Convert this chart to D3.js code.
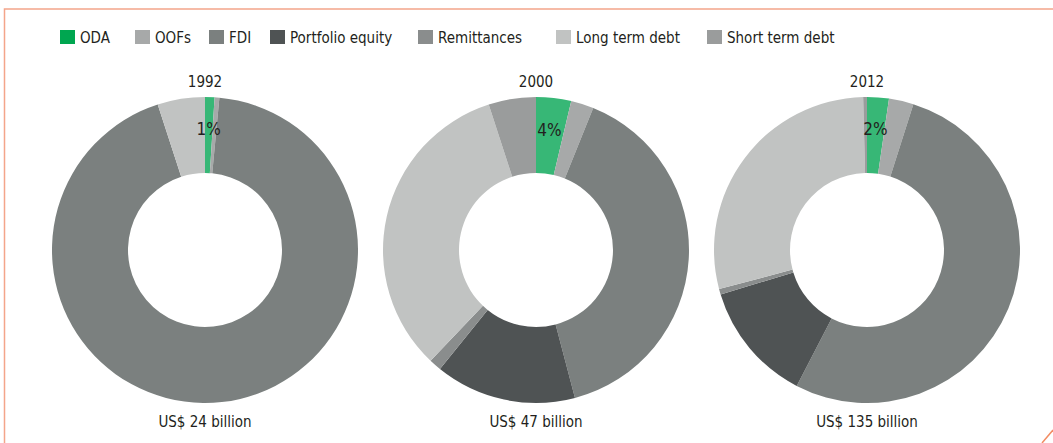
<!DOCTYPE html>
<html>
<head>
<meta charset="utf-8">
<script src="https://cdn.jsdelivr.net/npm/d3@7"></script>
<style>
  body { margin: 0; background: #fff; }
  text { font-family: "Liberation Sans Narrow", "DejaVu Sans Condensed", sans-serif; fill: #231f20; }
</style>
</head>
<body>
<div id="chart"></div>
<script>
// categories, in the order they go round each ring
const categories = ['ODA', 'OOFs', 'FDI', 'Portfolio equity', 'Remittances', 'Long term debt', 'Short term debt'];
const years = ['1992', '2000', '2012'];
const totals = ['US$ 24 billion', 'US$ 47 billion', 'US$ 135 billion'];

// shares (%)
const shares1992 = [1.0, 0.5, 93.5, 0, 0, 5.0, 0];
const shares2000 = [3.7, 2.4, 39.8, 14.9, 1.3, 32.9, 5.0];
const shares2012 = [2.3, 2.6, 52.7, 12.7, 0.6, 28.7, 0.4];

const colors = ['#37b776', '#a7a9a9', '#7b807f', '#4f5354', '#8a8d8d', '#c1c3c2', '#9a9c9c'];
const legendColors = ['#00a650', '#a7a9a9', '#7b807f', '#4f5354', '#8a8d8d', '#c1c3c2', '#9a9c9c'];

const size = { width: 1053, height: 443 };
const ring = { outer: 153, inner: 77, cy: 250 };
// legend item offsets (layout only)
const legendOffsets = [0, 75, 149, 210, 358, 496, 647];

const svg = d3.select('#chart')
  .append('svg')
  .attr('width', size.width)
  .attr('height', size.height);

// orange frame
const frame = svg.append('g')
  .attr('fill', 'none')
  .attr('stroke-width', 1.5);
frame.append('path').attr('d', 'M4.5,443 V9 H1053').attr('stroke', '#f4a58a');
frame.append('path').attr('d', 'M1042,443 L1053,430').attr('stroke', '#f28c63');

// legend
const legend = svg.append('g').attr('transform', 'translate(60,30)');
categories.forEach((c, i) => {
  const g = legend.append('g').attr('transform', `translate(${legendOffsets[i]},0)`);
  g.append('rect').attr('width', 15).attr('height', 14).attr('fill', legendColors[i]);
  g.append('text')
    .attr('x', 20)
    .attr('y', 12.5)
    .attr('font-size', 15)
    .text(c);
});

const x = d3.scalePoint()
  .domain(years)
  .range([205, 867]);

const color = d3.scaleOrdinal().domain(categories).range(colors);

const pie = d3.pie().sort(null).value((d) => d.value);
const arc = d3.arc().innerRadius(ring.inner).outerRadius(ring.outer);

[shares1992, shares2000, shares2012].forEach((shares, i) => {
  const data = categories.map((c, j) => ({ cat: c, value: shares[j] }));
  const g = svg.append('g').attr('transform', `translate(${x(years[i])},${ring.cy})`);

  const arcs = pie(data);
  g.selectAll('path')
    .data(arcs)
    .enter()
    .append('path')
    .attr('d', arc)
    .attr('fill', (d) => color(d.data.cat));

  const oda = arcs[0];
  const [cx, cy] = arc.centroid(oda);
  g.append('text')
    .attr('x', cx)
    .attr('y', cy)
    .attr('text-anchor', 'middle')
    .attr('font-size', 17)
    .text(Math.round(oda.data.value) + '%');

  g.append('text')
    .attr('y', -ring.outer - 10)
    .attr('text-anchor', 'middle')
    .attr('font-size', 15)
    .text(years[i]);

  g.append('text')
    .attr('y', ring.outer + 24)
    .attr('text-anchor', 'middle')
    .attr('font-size', 15)
    .text(totals[i]);
});
</script>
</body>
</html>
